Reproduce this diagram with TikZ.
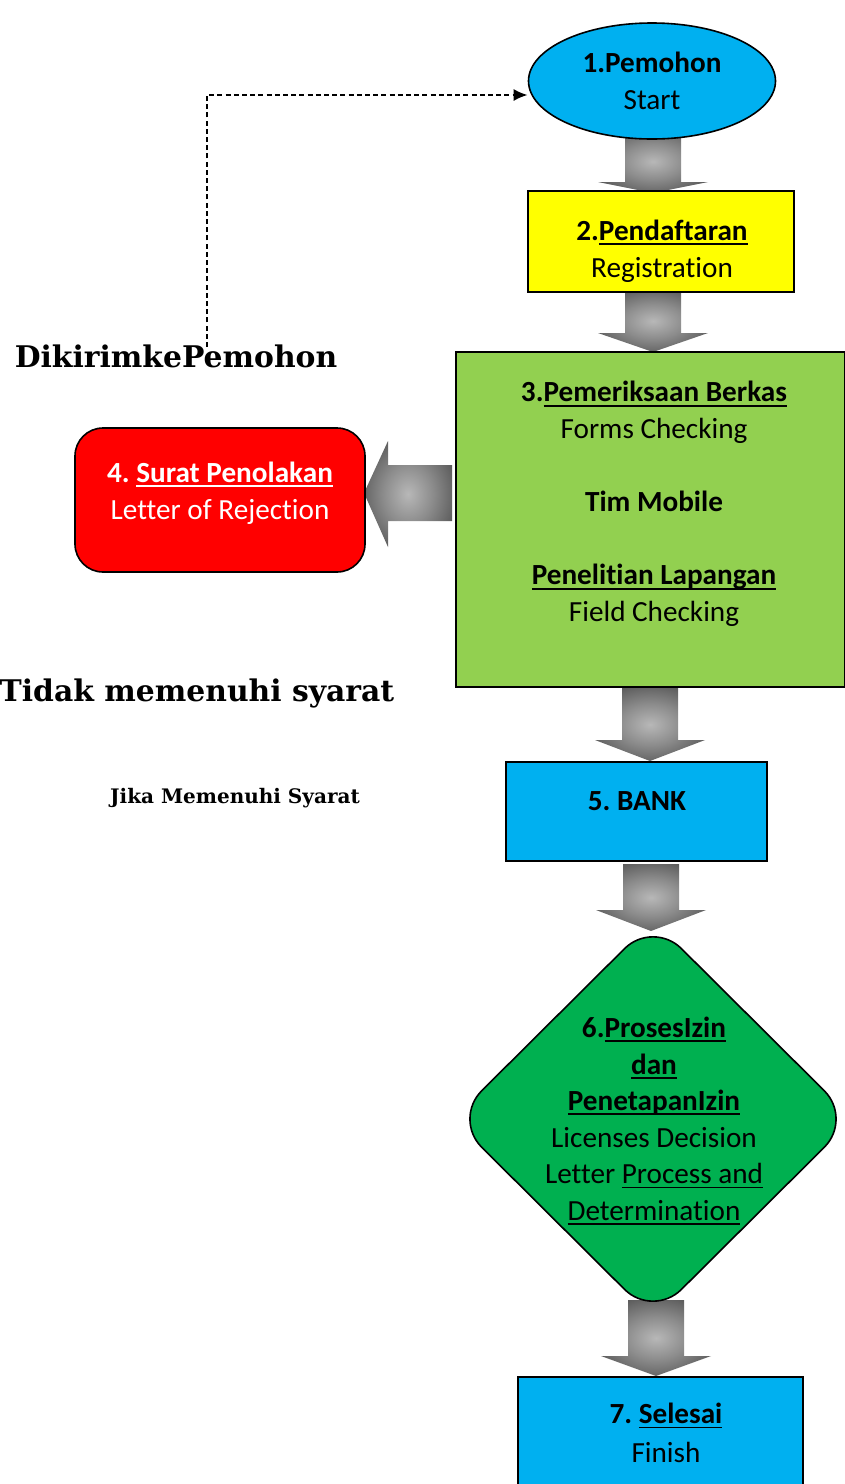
\documentclass[tikz,border=0pt]{standalone}
\usepackage{fontspec}
\setmainfont{Carlito}[Ligatures=NoCommon]
\newfontfamily\serifbk{DejaVu Serif}
\usetikzlibrary{shapes.geometric,arrows.meta,calc}
\definecolor{cyanb}{HTML}{00B0F0}
\definecolor{yel}{HTML}{FFFF00}
\definecolor{lgreen}{HTML}{92D050}
\definecolor{dgreen}{HTML}{00B050}
\definecolor{redb}{HTML}{FF0000}
\pgfdeclareradialshading{blkshade}{\pgfpoint{0bp}{0bp}}{color(0bp)=(black!28); color(14bp)=(black!45); color(40bp)=(black!80); color(50bp)=(black!90); color(100bp)=(black!90)}
\newsavebox\ulbox
\newcommand\ul[1]{\sbox\ulbox{#1}\rlap{\rule[-2.3pt]{\wd\ulbox}{0.9pt}}\usebox\ulbox}
\newcommand\blkdown[4]{%
  \path[blk] (#1-28,#2) -- (#1+28,#2) -- (#1+28,#3) -- (#1+55,#3) -- (#1,#4) -- (#1-55,#3) -- (#1-28,#3) -- cycle;}
\frenchspacing
\begin{document}
\frenchspacing
\begin{tikzpicture}[x=0.5pt,y=-0.5pt,
  box/.style={draw=black,line width=0.8pt,inner sep=0pt},
  txt/.style={align=center,inner sep=0pt,font=\frenchspacing\fontsize{14.6}{18.3}\selectfont},
  lbl/.style={inner sep=0pt,font=\serifbk\bfseries\fontsize{14.9}{17}\selectfont},
  blk/.style={shading=blkshade,shade,draw=none},
  dashline/.style={line width=1pt,dash pattern=on 2.5pt off 1.6pt,-{Latex[length=7pt,width=6pt]}}]
\useasboundingbox (0,0) rectangle (845,1484);

% block arrows
\blkdown{653}{130}{182}{193}
\blkdown{653}{290}{333}{352}
\blkdown{650}{688}{740}{761}
\blkdown{651}{864}{910}{931}
\blkdown{656}{1300}{1356}{1376}
\path[blk] (452,465) -- (452,521) -- (388,521) -- (388,547) -- (364,493) -- (388,441) -- (388,465) -- cycle;

% nodes
\node[box,ellipse,fill=cyanb,minimum width=123.5pt,minimum height=58pt,txt] (p1) at (652,81) {\textbf{1.Pemohon}\\Start};

\node[box,fill=yel,minimum width=133pt,minimum height=50.5pt] (p2) at (661,241.5) {};
\node[txt] (p2t) at (662,251) {\textbf{2.\ul{Pendaftaran}}\\Registration};

\node[box,fill=lgreen,minimum width=194.5pt,minimum height=167.5pt] (p3) at (650.5,519.5) {};
\node[txt] (p3t) at (654,504) {\textbf{3.\ul{Pemeriksaan Berkas}}\\Forms Checking\\[18.3pt]\textbf{Tim Mobile}\\[18.3pt]\textbf{\ul{Penelitian Lapangan}}\\Field Checking};

\node[box,fill=redb,rounded corners=14pt,minimum width=145pt,minimum height=72pt] (p4) at (220,500) {};
\node[txt,text=white] (p4t) at (220,493) {\textbf{4. \ul{Surat Penolakan}}\\Letter of Rejection};

\node[box,fill=cyanb,minimum width=130.5pt,minimum height=49.5pt] (p5) at (636.5,811.5) {};
\node[txt] (p5t) at (637,801) {\textbf{5. BANK}};

\node[box,diamond,fill=dgreen,rounded corners=20pt,minimum width=200pt,minimum height=199pt] (p6) at (653,1119) {};
\node[txt] (p6t) at (654,1121) {\textbf{6.\ul{ProsesIzin}}\\\textbf{\ul{dan}}\\\textbf{\ul{PenetapanIzin}}\\Licenses Decision\\Letter \ul{Process and}\\\ul{Determination}};

\node[box,fill=cyanb,minimum width=142.5pt,minimum height=61.5pt] (p7) at (660.5,1438.5) {};
\node[txt] (p7t) at (666,1433) {\textbf{7. \ul{Selesai}}\\[1pt]Finish};

% labels
\node[lbl] (dk) at (176,356) {DikirimkePemohon};
\node[lbl] (tm) at (197,693) {Tidak memenuhi syarat};
\node[lbl,font=\serifbk\bfseries\fontsize{10}{12}\selectfont] (jm) at (235,798) {Jika Memenuhi Syarat};

% dashed return arrow
\coordinate (dstart) at (207,347);
\draw[dashline] (dstart) |- ($(p1.west)+(0,14)$);
\end{tikzpicture}
\end{document}
